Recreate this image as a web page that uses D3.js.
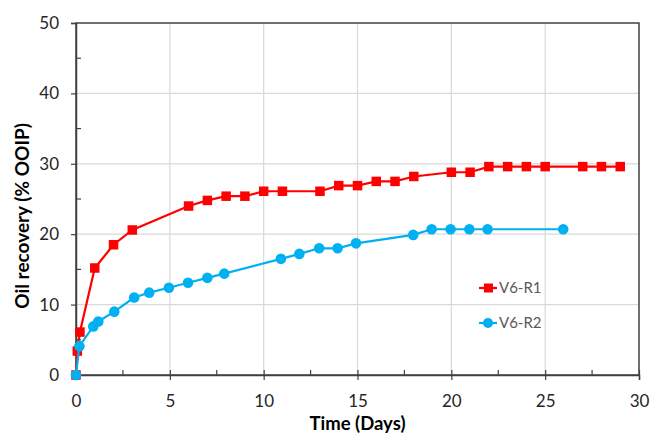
<!DOCTYPE html>
<html>
<head>
<meta charset="utf-8">
<script src="https://cdn.jsdelivr.net/npm/d3@7"></script>
<style>
  body { margin: 0; background: #fff; }
</style>
</head>
<body>
<div id="wrapper"></div>
<script>
// data
const r1Days = [0, 0.07, 0.21, 1, 2, 3, 6, 7, 8, 9, 10, 11, 13, 14, 15, 16, 17, 18, 20, 21, 22, 23, 24, 25, 27, 28, 29]
const r1Recovery = [0, 3.4, 6.1, 15.2, 18.5, 20.6, 24.0, 24.8, 25.4, 25.4, 26.1, 26.1, 26.1, 26.9, 26.9, 27.5, 27.5, 28.2, 28.8, 28.8, 29.6, 29.6, 29.6, 29.6, 29.6, 29.6, 29.6]
const r2Days = [0, 0.18, 0.92, 1.19, 2.04, 3.1, 3.9, 4.95, 5.97, 7, 7.9, 10.92, 11.9, 12.96, 13.94, 14.92, 17.97, 18.95, 19.96, 20.96, 21.93, 25.96]
const r2Recovery = [0, 4.1, 6.9, 7.6, 9.0, 11.0, 11.7, 12.4, 13.1, 13.8, 14.4, 16.5, 17.2, 18.0, 18.0, 18.7, 19.9, 20.7, 20.7, 20.7, 20.7, 20.7]
const seriesNames = ["V6-R1", "V6-R2"]
const xTicks = [0, 5, 10, 15, 20, 25, 30]
const yTicks = [0, 10, 20, 30, 40, 50]

function drawChart() {
  const dimensions = {
    width: 651,
    height: 433,
    margin: { top: 23, right: 12, bottom: 58, left: 76 }
  }
  dimensions.boundedWidth = dimensions.width - dimensions.margin.left - dimensions.margin.right
  dimensions.boundedHeight = dimensions.height - dimensions.margin.top - dimensions.margin.bottom

  const font = "Lato, 'Open Sans', sans-serif"
  const axisColor = "#404040"
  const gridColor = "#d9d9d9"
  const red = "#ff0000"
  const blue = "#00b0f0"

  const svg = d3.select("#wrapper")
    .append("svg")
      .attr("width", dimensions.width)
      .attr("height", dimensions.height)
  const bounds = svg.append("g")
      .attr("transform", `translate(${dimensions.margin.left},${dimensions.margin.top})`)

  const xScale = d3.scaleLinear()
      .domain([0, 30])
      .range([0, dimensions.boundedWidth])
  const yScale = d3.scaleLinear()
      .domain([0, 50])
      .range([dimensions.boundedHeight, 0])

  // grid
  bounds.append("g").selectAll("line")
    .data(xTicks.slice(1, -1))
    .join("line")
      .attr("x1", d => xScale(d)).attr("x2", d => xScale(d))
      .attr("y1", 0).attr("y2", dimensions.boundedHeight)
      .attr("stroke", gridColor).attr("stroke-width", 1.2)
  bounds.append("g").selectAll("line")
    .data(yTicks.slice(1, -1))
    .join("line")
      .attr("x1", 0).attr("x2", dimensions.boundedWidth)
      .attr("y1", d => yScale(d)).attr("y2", d => yScale(d))
      .attr("stroke", gridColor).attr("stroke-width", 1.2)

  // frame
  bounds.append("rect")
      .attr("width", dimensions.boundedWidth)
      .attr("height", dimensions.boundedHeight)
      .attr("fill", "none")
      .attr("stroke", axisColor)
      .attr("stroke-width", 1.5)

  // axes
  const xAxis = d3.axisBottom(xScale).tickValues(xTicks).tickSize(5).tickPadding(15)
  const xAxisGroup = bounds.append("g")
      .attr("transform", `translate(0,${dimensions.boundedHeight})`)
      .call(xAxis)
  const yAxis = d3.axisLeft(yScale).tickValues(yTicks).tickSize(5).tickPadding(12)
  const yAxisGroup = bounds.append("g").call(yAxis)
  ;[xAxisGroup, yAxisGroup].forEach(g => {
    g.select(".domain").attr("stroke", axisColor).attr("stroke-width", 1.5)
    g.selectAll(".tick line").attr("stroke", axisColor).attr("stroke-width", 1.2)
    g.selectAll(".tick text")
      .attr("fill", "#262626")
      .style("font-size", "17px")
      .style("font-family", font)
  })
  xAxisGroup.selectAll(".tick line").attr("y1", -5)

  // minor ticks (inside)
  const xMinor = d3.range(2.5, 30, 5)
  bounds.append("g").selectAll("line")
    .data(xMinor)
    .join("line")
      .attr("x1", d => xScale(d)).attr("x2", d => xScale(d))
      .attr("y1", dimensions.boundedHeight).attr("y2", dimensions.boundedHeight - 5)
      .attr("stroke", axisColor).attr("stroke-width", 1.2)
  const yMinor = d3.range(5, 50, 10)
  bounds.append("g").selectAll("line")
    .data(yMinor)
    .join("line")
      .attr("x1", 0).attr("x2", 5)
      .attr("y1", d => yScale(d)).attr("y2", d => yScale(d))
      .attr("stroke", axisColor).attr("stroke-width", 1.2)

  // axis titles
  bounds.append("text")
      .attr("x", dimensions.boundedWidth / 2)
      .attr("y", dimensions.boundedHeight + 55)
      .attr("text-anchor", "middle")
      .attr("fill", "#000")
      .style("font-size", "18.5px")
      .style("font-weight", "bold")
      .style("font-family", font)
      .text("Time (Days)")
  bounds.append("text")
      .attr("transform", `translate(-47,${yScale(22.6)}) rotate(-90)`)
      .attr("text-anchor", "middle")
      .attr("fill", "#000")
      .style("font-size", "19px")
      .style("font-weight", "bold")
      .style("font-family", font)
      .text("Oil recovery (% OOIP)")

  // series
  const r1 = r1Days.map((d, i) => [d, r1Recovery[i]])
  const r2 = r2Days.map((d, i) => [d, r2Recovery[i]])
  const line = d3.line().x(d => xScale(d[0])).y(d => yScale(d[1]))

  bounds.append("path")
      .datum(r1)
      .attr("d", line)
      .attr("fill", "none")
      .attr("stroke", red)
      .attr("stroke-width", 2.2)
  bounds.append("g").selectAll("rect")
    .data(r1)
    .join("rect")
      .attr("x", d => xScale(d[0]) - 4.75)
      .attr("y", d => yScale(d[1]) - 4.75)
      .attr("width", 9.5)
      .attr("height", 9.5)
      .attr("fill", red)

  bounds.append("path")
      .datum(r2)
      .attr("d", line)
      .attr("fill", "none")
      .attr("stroke", blue)
      .attr("stroke-width", 2.2)
  bounds.append("g").selectAll("circle")
    .data(r2)
    .join("circle")
      .attr("cx", d => xScale(d[0]))
      .attr("cy", d => yScale(d[1]))
      .attr("r", 5.3)
      .attr("fill", blue)

  // legend
  const legend = svg.append("g")
      .attr("transform", "translate(479,288)")
  const legendItems = legend.selectAll("g")
    .data(seriesNames)
    .join("g")
      .attr("transform", (d, i) => `translate(0,${i * 35})`)
  legendItems.append("line")
      .attr("x1", 0).attr("x2", 18)
      .attr("stroke", (d, i) => i === 0 ? red : blue)
      .attr("stroke-width", 2.2)
  legendItems.filter((d, i) => i === 0).append("rect")
      .attr("x", 5).attr("y", -4.5).attr("width", 9).attr("height", 9)
      .attr("fill", red)
  legendItems.filter((d, i) => i === 1).append("circle")
      .attr("cx", 9).attr("r", 5)
      .attr("fill", blue)
  legendItems.append("text")
      .attr("x", 20)
      .attr("dy", "0.35em")
      .attr("fill", "#595959")
      .style("font-size", "15px")
      .style("font-family", font)
      .text(d => d)
}
drawChart()
</script>
</body>
</html>
